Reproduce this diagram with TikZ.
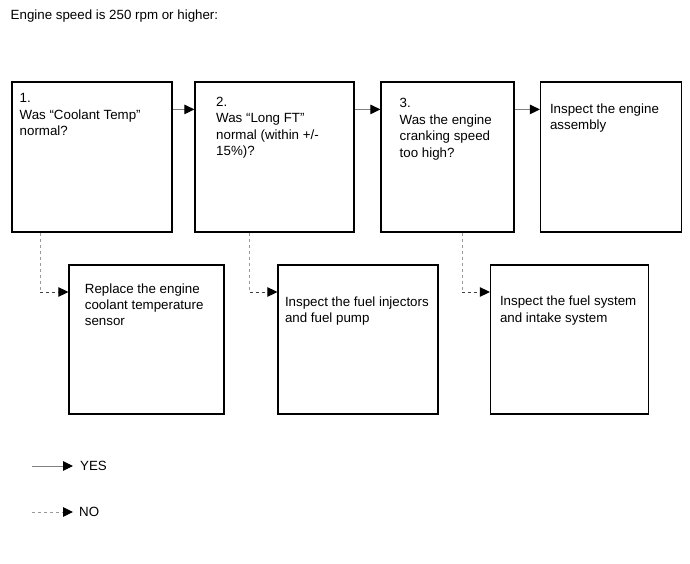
\documentclass[tikz,border=0pt]{standalone}
\usepackage{fontspec}
\setmainfont{Liberation Sans}
\usetikzlibrary{arrows.meta}
\tikzset{
  box/.style={draw=black, line width=1.2pt, fill=white, inner sep=0pt},
  txt/.style={anchor=base west, inner sep=0pt, align=left, font=\fontsize{13.33}{16.4}\selectfont},
  mtxt/.style={anchor=north west, inner sep=0pt, align=left, font=\fontsize{13.33}{16.4}\selectfont},
  yesline/.style={draw=gray, line width=1pt, -{Triangle[length=10pt,width=9.5pt,color=black]}},
  novert/.style={draw=gray!80, line width=1pt, dash pattern=on 3pt off 3pt},
  nohor/.style={draw=black!75, line width=1pt, dash pattern=on 3pt off 3pt, -{Triangle[length=10pt,width=9.5pt,color=black]}},
}
\begin{document}
\begin{tikzpicture}[x=1pt, y=-1pt]
\useasboundingbox (0,0) rectangle (690,564);
\node[txt] (title) at (10.5,19.5) {Engine speed is 250 rpm or higher:};
% top row boxes
\node[box, minimum width=160pt, minimum height=150pt] (b1) at (92,157) {};
\node[box, minimum width=159pt, minimum height=150pt] (b2) at (274.5,157) {};
\node[box, minimum width=133pt, minimum height=150pt] (b3) at (447.5,157) {};
\node[box, minimum width=141pt, minimum height=150pt] (b4) at (611,157) {};
% bottom row boxes
\node[box, minimum width=155pt, minimum height=149pt] (b5) at (146.5,339.5) {};
\node[box, minimum width=160pt, minimum height=149pt] (b6) at (358,339.5) {};
\node[box, minimum width=158pt, minimum height=149pt] (b7) at (569.5,339.5) {};
% texts
\node[mtxt] (t1) at (19.5,93.3) {1.\\Was “Coolant Temp”\\normal?};
\node[mtxt] (t2) at (216,96.7) {2.\\Was “Long FT”\\normal (within +/-\\15\%)?};
\node[mtxt] (t3) at (399.5,98.3) {3.\\Was the engine\\cranking speed\\too high?};
\node[mtxt] (t4) at (549.8,103.3) {Inspect the engine\\assembly};
\node[mtxt] (t5) at (84.7,283.3) {Replace the engine\\coolant temperature\\sensor};
\node[mtxt] (t6) at (284.8,296.7) {Inspect the fuel injectors\\and fuel pump};
\node[mtxt] (t7) at (499.8,296) {Inspect the fuel system\\and intake system};
% YES connectors
\draw[yesline] ([yshift=-28pt]b1.north east) -- ([yshift=-28pt]b2.north west);
\draw[yesline] ([yshift=-28pt]b2.north east) -- ([yshift=-28pt]b3.north west);
\draw[yesline] ([yshift=-28pt]b3.north east) -- ([yshift=-28pt]b4.north west);
% NO connectors
\coordinate (k1) at (40,292);
\coordinate (k2) at (249.5,292);
\coordinate (k3) at (462,292);
\draw[novert] (b1.south -| k1) -- (k1);
\draw[nohor] (k1) -- (k1 -| b5.west);
\draw[novert] (b2.south -| k2) -- (k2);
\draw[nohor] (k2) -- (k2 -| b6.west);
\draw[novert] (b3.south -| k3) -- (k3);
\draw[nohor] (k3) -- (k3 -| b7.west);
% legend
\coordinate (ly1) at (32,466);
\coordinate (ly2) at (73,466);
\coordinate (ln1) at (32,512);
\coordinate (ln2) at (73,512);
\draw[yesline] (ly1) -- (ly2);
\draw[novert, -{Triangle[length=10pt,width=9.5pt,color=black]}] (ln1) -- (ln2);
\node[txt] (lyes) at (80,470.5) {YES};
\node[txt] (lno) at (79,516.5) {NO};
\end{tikzpicture}
\end{document}
